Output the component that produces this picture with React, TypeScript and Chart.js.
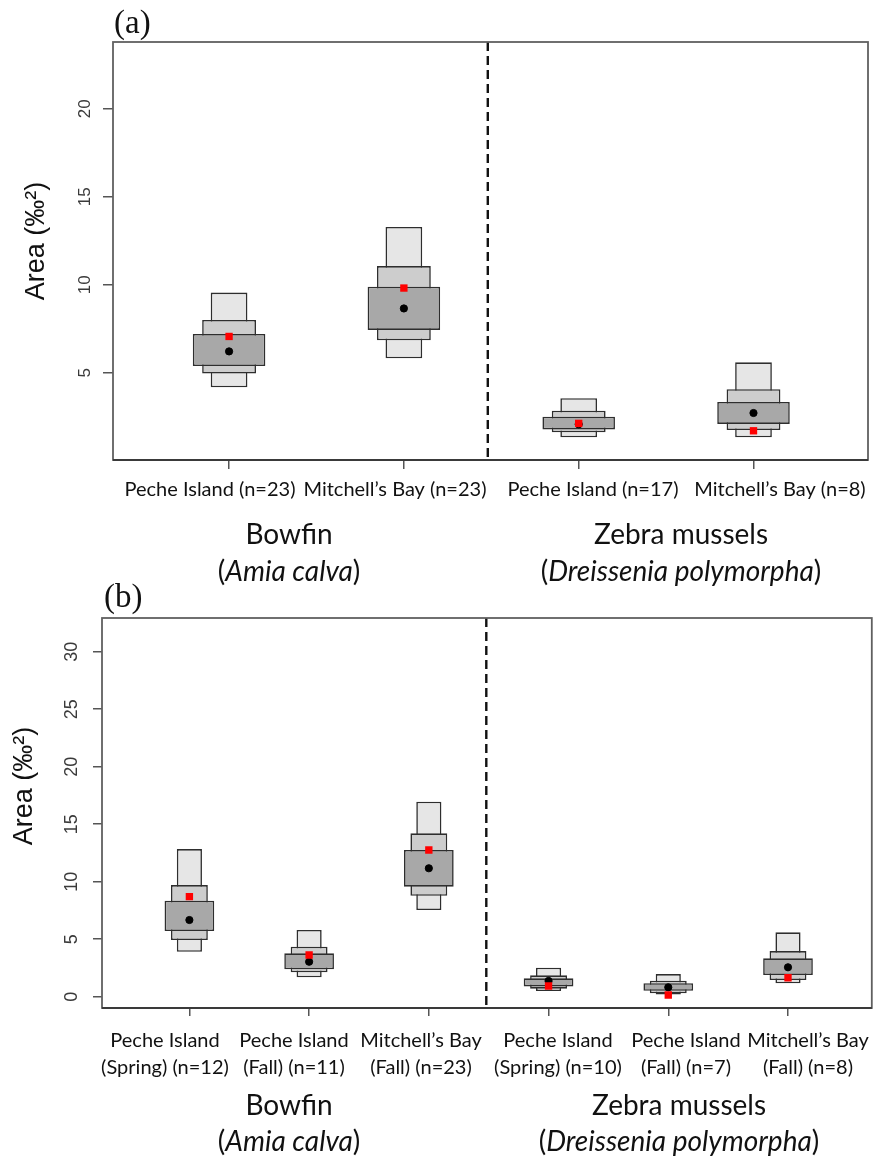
import React, { useEffect, useRef } from "react";
import { Chart, registerables } from "chart.js";

Chart.register(...registerables);

// ===================== Panel (a) data =====================
const aPositions = [1, 2, 3, 4];
const aSiteLabels = [
  ["Peche Island (n=23)"],
  ["Mitchell\u2019s Bay (n=23)"],
  ["Peche Island (n=17)"],
  ["Mitchell\u2019s Bay (n=8)"],
];
const aCredible95 = [[4.17, 9.55], [5.82, 13.28], [1.33, 3.55], [1.33, 5.59]];
const aCredible75 = [[4.95, 8.0], [6.84, 11.06], [1.61, 2.84], [1.74, 4.06]];
const aCredible50 = [[5.38, 7.2], [7.43, 9.89], [1.78, 2.5], [2.09, 3.34]];
const aMode = [6.21, 8.65, 2.07, 2.71];
const aSEAc = [7.06, 9.81, 2.12, 1.7];
const aYTicks = [5, 10, 15, 20];
const aDivider = 2.48;

// ===================== Panel (b) data =====================
const bPositions = [1, 2, 3, 4, 5, 6];
const bSiteLabels = [
  ["Peche Island", "(Spring) (n=12)"],
  ["Peche Island", "(Fall) (n=11)"],
  ["Mitchell\u2019s Bay", "(Fall) (n=23)"],
  ["Peche Island", "(Spring) (n=10)"],
  ["Peche Island", "(Fall) (n=7)"],
  ["Mitchell\u2019s Bay", "(Fall) (n=8)"],
];
const bCredible95 = [[3.9, 12.84], [1.69, 5.8], [7.54, 16.96], [0.5, 2.52], [0.2, 1.97], [1.17, 5.6]];
const bCredible75 = [[4.93, 9.71], [2.12, 4.35], [8.78, 14.21], [0.7, 1.86], [0.3, 1.39], [1.45, 3.97]];
const bCredible50 = [[5.71, 8.35], [2.38, 3.77], [9.57, 12.76], [0.9, 1.6], [0.52, 1.17], [1.89, 3.34]];
const bMode = [6.67, 3.04, 11.17, 1.37, 0.82, 2.56];
const bSEAc = [8.7, 3.63, 12.76, 0.93, 0.15, 1.65];
const bYTicks = [0, 5, 10, 15, 20, 25, 30];
const bDivider = 3.48;

// ===================== shared text =====================
const groupNames = ["Bowfin", "Zebra mussels"];
const groupLatin = ["Amia calva", "Dreissenia polymorpha"];
const yAxisTitle = "Area (\u2030\u00B2)";

// ===================== layout (page pixel coordinates) =====================
const PAGE_W = 877;

const PANEL_A = {
  tag: "(a)",
  positions: aPositions,
  siteLabels: aSiteLabels,
  ci95: aCredible95,
  ci75: aCredible75,
  ci50: aCredible50,
  mode: aMode,
  seac: aSEAc,
  yTicks: aYTicks,
  divider: aDivider,
  canvasTop: 0,
  canvasHeight: 600,
  area: { left: 113, top: 42, right: 868, bottom: 460 },
  xRange: [0.336, 4.655],
  yRange: [0.04, 23.79],
  yTickFont: 17,
  yTickGap: 28,
  yTickLen: 10,
  xTickLen: 9,
  yTitle: { x: 37, y: 241 },
  tagPos: { x: 114, y: 33 },
  siteCenters: [210, 395, 593, 780],
  siteBaselines: [496],
  groupCenters: [289, 681],
  groupBaselines: [544, 581],
};

const PANEL_B = {
  tag: "(b)",
  positions: bPositions,
  siteLabels: bSiteLabels,
  ci95: bCredible95,
  ci75: bCredible75,
  ci50: bCredible50,
  mode: bMode,
  seac: bSEAc,
  yTicks: bYTicks,
  divider: bDivider,
  canvasTop: 570,
  canvasHeight: 595,
  area: { left: 102, top: 618, right: 873, bottom: 1008 },
  xRange: [0.27, 6.7],
  yRange: [-0.98, 32.93],
  yTickFont: 18,
  yTickGap: 30,
  yTickLen: 9,
  xTickLen: 8,
  yTitle: { x: 25, y: 786 },
  tagPos: { x: 104, y: 607 },
  siteCenters: [165, 294, 421, 558, 686, 808],
  siteBaselines: [1047, 1074],
  groupCenters: [289, 679],
  groupBaselines: [1115, 1151],
};

const SITE_FONT = 20;
const GROUP_FONT = 28;
const LABEL_FAMILY = "Lato, 'Open Sans', sans-serif";
const AXIS_FAMILY = "'Liberation Sans', Arial, sans-serif";
const X_AXIS_H = 20;

function drawMixed(ctx: CanvasRenderingContext2D, parts: { t: string; it: boolean }[], cx: number, by: number, size: number) {
  const fonts = parts.map((p) => `${p.it ? "italic " : ""}${size}px ${LABEL_FAMILY}`);
  let total = 0;
  const widths = parts.map((p, i) => {
    ctx.font = fonts[i];
    const w = ctx.measureText(p.t).width;
    total += w;
    return w;
  });
  let x = cx - total / 2;
  ctx.textAlign = "left";
  parts.forEach((p, i) => {
    ctx.font = fonts[i];
    ctx.fillText(p.t, x, by);
    x += widths[i];
  });
}

function makeDecor(spec: any) {
  return {
    id: "panelDecor",
    afterDraw(chart: any) {
      const { ctx, chartArea: ca, scales } = chart;
      const xs = scales.x;
      const ys = scales.y;
      const top = spec.canvasTop;
      ctx.save();

      // dashed divider between species groups
      const dx = xs.getPixelForValue(spec.divider);
      ctx.setLineDash([9, 5]);
      ctx.strokeStyle = "#111";
      ctx.lineWidth = 2.4;
      ctx.beginPath();
      ctx.moveTo(dx, ca.top);
      ctx.lineTo(dx, ca.bottom);
      ctx.stroke();
      ctx.setLineDash([]);

      // frame
      ctx.strokeStyle = "#606060";
      ctx.lineWidth = 1.8;
      ctx.strokeRect(ca.left, ca.top, ca.right - ca.left, ca.bottom - ca.top);
      ctx.strokeStyle = "#3a3a3a";
      ctx.lineWidth = 2;
      ctx.beginPath();
      ctx.moveTo(ca.left, ca.bottom);
      ctx.lineTo(ca.right, ca.bottom);
      ctx.stroke();

      // rotated y tick labels
      ctx.fillStyle = "#3a3a3a";
      ctx.font = `${spec.yTickFont}px ${AXIS_FAMILY}`;
      ctx.textAlign = "center";
      ctx.textBaseline = "middle";
      for (const t of ys.ticks) {
        const py = ys.getPixelForValue(t.value);
        ctx.save();
        ctx.translate(ca.left - spec.yTickGap, py);
        ctx.rotate(-Math.PI / 2);
        ctx.fillText(String(t.value), 0, 0);
        ctx.restore();
      }

      // y axis title
      ctx.fillStyle = "#111";
      ctx.font = `27px ${AXIS_FAMILY}`;
      ctx.save();
      ctx.translate(spec.yTitle.x, spec.yTitle.y - top);
      ctx.rotate(-Math.PI / 2);
      ctx.fillText(yAxisTitle, 0, 0);
      ctx.restore();

      // panel tag
      ctx.textBaseline = "alphabetic";
      ctx.textAlign = "left";
      ctx.fillStyle = "#111";
      ctx.font = `33px 'Liberation Serif', 'Times New Roman', serif`;
      ctx.fillText(spec.tag, spec.tagPos.x, spec.tagPos.y - top);

      // site labels under the x axis
      ctx.fillStyle = "#111";
      ctx.font = `${SITE_FONT}px ${LABEL_FAMILY}`;
      ctx.textAlign = "center";
      spec.siteLabels.forEach((lines: string[], i: number) => {
        lines.forEach((line, j) => {
          ctx.fillText(line, spec.siteCenters[i], spec.siteBaselines[j] - top);
        });
      });

      // species group labels
      groupNames.forEach((name, i) => {
        ctx.font = `${GROUP_FONT}px ${LABEL_FAMILY}`;
        ctx.textAlign = "center";
        ctx.fillText(name, spec.groupCenters[i], spec.groupBaselines[0] - top);
        drawMixed(
          ctx,
          [
            { t: "(", it: false },
            { t: groupLatin[i], it: true },
            { t: ")", it: false },
          ],
          spec.groupCenters[i],
          spec.groupBaselines[1] - top,
          GROUP_FONT
        );
      });

      ctx.restore();
    },
  };
}

function buildConfig(spec: any): any {
  const pts = (vals: any[]) => spec.positions.map((p: number, i: number) => ({ x: p, y: vals[i] }));
  const barCommon = {
    type: "bar",
    borderColor: "#2e2e2e",
    borderWidth: 1.6,
    borderSkipped: false,
    grouped: false,
    categoryPercentage: 1,
  };
  const canvasBottom = spec.canvasTop + spec.canvasHeight;
  return {
    type: "bar",
    data: {
      datasets: [
        {
          type: "scatter",
          label: "SEAc",
          data: pts(spec.seac),
          pointStyle: "rect",
          pointRadius: 5.2,
          backgroundColor: "#ff0000",
          borderColor: "#ff0000",
          borderWidth: 0,
          order: 0,
        },
        {
          type: "scatter",
          label: "Mode",
          data: pts(spec.mode),
          pointStyle: "circle",
          pointRadius: 3.6,
          backgroundColor: "#000000",
          borderColor: "#000000",
          borderWidth: 1,
          order: 1,
        },
        { ...barCommon, label: "50%", data: pts(spec.ci50), backgroundColor: "#a8a8a8", barPercentage: 0.415, order: 2 },
        { ...barCommon, label: "75%", data: pts(spec.ci75), backgroundColor: "#cdcdcd", barPercentage: 0.308, order: 3 },
        { ...barCommon, label: "95%", data: pts(spec.ci95), backgroundColor: "#e6e6e6", barPercentage: 0.21, order: 4 },
      ],
    },
    options: {
      animation: false,
      responsive: false,
      maintainAspectRatio: false,
      events: [],
      layout: {
        padding: {
          left: 0,
          top: spec.area.top - spec.canvasTop,
          right: PAGE_W - spec.area.right,
          bottom: canvasBottom - spec.area.bottom - X_AXIS_H,
        },
      },
      plugins: { legend: { display: false }, tooltip: { enabled: false }, title: { display: false } },
      scales: {
        x: {
          type: "linear",
          offset: false,
          min: spec.xRange[0],
          max: spec.xRange[1],
          afterBuildTicks: (s: any) => {
            s.ticks = spec.positions.map((v: number) => ({ value: v }));
          },
          ticks: { display: false },
          grid: { offset: false, drawOnChartArea: false, drawTicks: true, tickLength: spec.xTickLen, color: "#555555", lineWidth: 1.5 },
          border: { display: false },
          afterFit: (s: any) => {
            s.height = X_AXIS_H;
          },
        },
        y: {
          type: "linear",
          beginAtZero: false,
          min: spec.yRange[0],
          max: spec.yRange[1],
          afterBuildTicks: (s: any) => {
            s.ticks = spec.yTicks.map((v: number) => ({ value: v }));
          },
          ticks: { display: false },
          grid: { drawOnChartArea: false, drawTicks: true, tickLength: spec.yTickLen, color: "#555555", lineWidth: 1.5 },
          border: { display: false },
          afterFit: (s: any) => {
            s.width = spec.area.left;
          },
        },
      },
    },
    plugins: [makeDecor(spec)],
  };
}

function Panel({ spec }: { spec: any }) {
  const ref = useRef<HTMLCanvasElement>(null);
  useEffect(() => {
    const chart = new Chart(ref.current as HTMLCanvasElement, buildConfig(spec));
    return () => chart.destroy();
  }, [spec]);
  return (
    <canvas
      ref={ref}
      width={PAGE_W}
      height={spec.canvasHeight}
      style={{ position: "absolute", left: 0, top: spec.canvasTop, width: PAGE_W, height: spec.canvasHeight }}
    />
  );
}

export default function App() {
  return (
    <div style={{ position: "absolute", left: 0, top: 0, width: PAGE_W, height: 1165, background: "#ffffff" }}>
      <Panel spec={PANEL_A} />
      <Panel spec={PANEL_B} />
    </div>
  );
}
